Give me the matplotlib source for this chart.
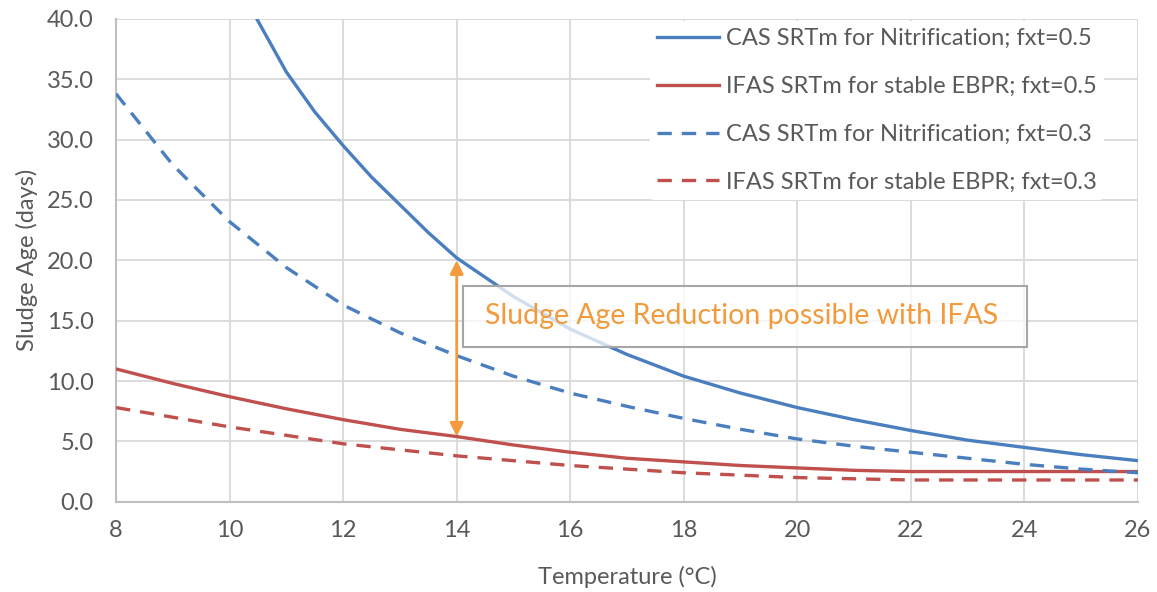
import matplotlib
matplotlib.use("Agg")
import matplotlib.pyplot as plt
from matplotlib.patches import Rectangle

plt.rcParams['font.family'] = ['Lato', 'DejaVu Sans']

# Data
temp_cas05 = [10.48, 11, 11.5, 12, 12.5, 13, 13.5, 14, 15, 16, 17, 18, 19, 20, 21, 22, 23, 24, 25, 26]
cas_05 = [40.0, 35.6, 32.3, 29.5, 26.9, 24.6, 22.3, 20.2, 17.0, 14.3, 12.2, 10.4, 9.0, 7.8, 6.8, 5.9, 5.1, 4.5, 3.9, 3.4]

temp = [8, 9, 10, 11, 12, 13, 14, 15, 16, 17, 18, 19, 20, 21, 22, 23, 24, 25, 26]
ifas_05 = [11.0, 9.8, 8.7, 7.7, 6.8, 6.0, 5.4, 4.7, 4.1, 3.6, 3.3, 3.0, 2.8, 2.6, 2.5, 2.5, 2.5, 2.5, 2.5]
cas_03 = [33.8, 27.9, 23.2, 19.4, 16.3, 14.0, 12.1, 10.4, 9.0, 7.9, 6.9, 6.0, 5.2, 4.6, 4.1, 3.6, 3.1, 2.7, 2.4]
ifas_03 = [7.8, 7.0, 6.2, 5.5, 4.8, 4.3, 3.8, 3.4, 3.0, 2.7, 2.4, 2.2, 2.0, 1.9, 1.8, 1.8, 1.8, 1.8, 1.8]

labels = ["CAS SRTm for Nitrification; fxt=0.5",
          "IFAS SRTm for stable EBPR; fxt=0.5",
          "CAS SRTm for Nitrification; fxt=0.3",
          "IFAS SRTm for stable EBPR; fxt=0.3"]

x_ticks = [8, 10, 12, 14, 16, 18, 20, 22, 24, 26]
y_ticks = [0, 5, 10, 15, 20, 25, 30, 35, 40]

annot_text = "Sludge Age Reduction possible with IFAS"
arrow_x = 14
arrow_top = 20.0
arrow_bottom = 5.4

blue = '#4a7ebf'
red = '#c0504d'
orange = '#f39a3c'
gray_txt = '#595959'

fig = plt.figure(figsize=(11.57, 5.92), dpi=100)
ax = fig.add_axes([0.1003, 0.1525, 0.8833, 0.8155])

lw = 2.4
dash = (0, (4.3, 3))
l1, = ax.plot(temp_cas05, cas_05, color=blue, lw=lw, label=labels[0], zorder=3)
l2, = ax.plot(temp, ifas_05, color=red, lw=lw, label=labels[1], zorder=3)
l3, = ax.plot(temp, cas_03, color=blue, lw=lw, ls=dash, label=labels[2], zorder=3)
l4, = ax.plot(temp, ifas_03, color=red, lw=lw, ls=dash, label=labels[3], zorder=3)

ax.set_xlim(8, 26)
ax.set_ylim(0, 40)
ax.set_xticks(x_ticks)
ax.set_yticks(y_ticks)
ax.set_yticklabels([f"{v:.1f}" for v in y_ticks])
ax.grid(True, color='#d9d9d9', lw=1.3, zorder=0)
ax.set_axisbelow(True)
for s in ['top', 'right']:
    ax.spines[s].set_visible(False)
for s in ['left', 'bottom']:
    ax.spines[s].set_color('#bfbfbf')
    ax.spines[s].set_linewidth(1.5)
ax.tick_params(length=0, labelsize=17, colors=gray_txt)
ax.tick_params(axis='x', pad=13)
ax.tick_params(axis='y', pad=16)
ax.set_xlabel("Temperature (°C)", fontsize=17, color=gray_txt, labelpad=18)
ax.set_ylabel("Sludge Age (days)", fontsize=17, color=gray_txt, labelpad=6)

# annotation box (semi-transparent)
box = Rectangle((14.11, 12.8), 24.04 - 14.11, 17.87 - 12.8, facecolor='white', alpha=0.75,
                edgecolor='none', zorder=4)
ax.add_patch(box)
box_edge = Rectangle((14.11, 12.8), 24.04 - 14.11, 17.87 - 12.8, facecolor='none',
                     edgecolor='#a6a6a6', lw=1.5, zorder=5)
ax.add_patch(box_edge)
ax.text(14.5, 15.35, annot_text, color=orange, fontsize=20.5, va='center', ha='left', zorder=6)

ax.annotate('', xy=(arrow_x, arrow_bottom), xytext=(arrow_x, arrow_top),
            arrowprops=dict(arrowstyle='<|-|>', color=orange, lw=2, mutation_scale=20,
                            shrinkA=0, shrinkB=0), zorder=6)

leg = ax.legend(handles=[l1, l2, l3, l4], loc='upper left', bbox_to_anchor=(0.522, 0.996),
                frameon=True, fontsize=17, handlelength=2.65, labelspacing=1.14,
                handletextpad=0.3, borderpad=0.3, borderaxespad=0, labelcolor=gray_txt)
leg.get_frame().set_facecolor('white')
leg.get_frame().set_edgecolor('none')
leg.get_frame().set_alpha(1)

fig.savefig('out.png', dpi=100)
